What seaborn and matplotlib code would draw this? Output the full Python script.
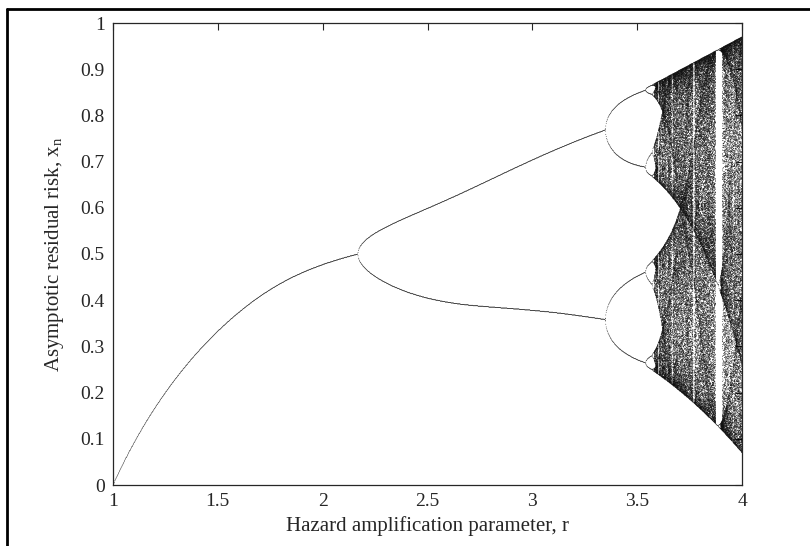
import numpy as np
import pandas as pd
import matplotlib
matplotlib.use("Agg")
import matplotlib.pyplot as plt
from matplotlib.lines import Line2D
import seaborn as sns

# Hazard map with threshold mitigation:
#   x_{n+1} = r * x * (1 - x) * (1 - MITIGATION * sigmoid((x - THRESHOLD) / SOFTNESS))
R_MIN, R_MAX = 1.0, 4.0
R_STEPS = 1400
THRESHOLD = 0.548
SOFTNESS = 0.034
MITIGATION = 0.4
X_START = 0.3
TRANSIENT = 1500
KEEP = 400
X_RESOLUTION = 3  # decimals kept when merging repeated orbit points

x_ticks = [1, 1.5, 2, 2.5, 3, 3.5, 4]
y_ticks = [0, 0.1, 0.2, 0.3, 0.4, 0.5, 0.6, 0.7, 0.8, 0.9, 1]
x_label = "Hazard amplification parameter, r"
y_label = r"Asymptotic residual risk, x$_{\mathregular{n}}$"


def hazard_step(x, r):
    damping = 1.0 - MITIGATION / (1.0 + np.exp(-(x - THRESHOLD) / SOFTNESS))
    return r * x * (1.0 - x) * damping


r_grid = np.linspace(R_MIN, R_MAX, R_STEPS)
x_state = np.full_like(r_grid, X_START)
for _ in range(TRANSIENT):
    x_state = hazard_step(x_state, r_grid)

r_cols, x_cols = [], []
for _ in range(KEEP):
    x_state = hazard_step(x_state, r_grid)
    r_cols.append(r_grid.copy())
    x_cols.append(x_state.copy())

orbit = pd.DataFrame({"r": np.concatenate(r_cols), "x": np.concatenate(x_cols)})
# periodic orbits revisit the same values: keep each attractor point once
orbit["x"] = orbit["x"].round(X_RESOLUTION)
orbit = orbit.drop_duplicates(["r", "x"])

sns.set_style("white")
plt.rcParams["font.family"] = ["Liberation Serif", "DejaVu Serif"]
plt.rcParams["mathtext.fontset"] = "custom"
plt.rcParams["mathtext.rm"] = "Liberation Serif"

W, H = 810, 546
fig = plt.figure(figsize=(W / 100, H / 100), dpi=100)
ax = fig.add_axes([113 / W, 1 - 485 / H, (742 - 113) / W, (485 - 23) / H])

sns.scatterplot(data=orbit, x="r", y="x", s=0.3, color="black",
                linewidth=0, edgecolor="none", legend=False, ax=ax)

ax.set_xlim(R_MIN, R_MAX)
ax.set_ylim(0, 1)
ax.set_xticks(x_ticks)
ax.set_xticklabels([f"{v:g}" for v in x_ticks])
ax.set_yticks(y_ticks)
ax.set_yticklabels([f"{v:g}" for v in y_ticks])
ax.tick_params(direction="in", length=5, width=0.8, top=True, right=True,
               labelsize=14, colors="#262626", pad=6)
for spine in ax.spines.values():
    spine.set_visible(True)
    spine.set_color("#262626")
    spine.set_linewidth(0.9)
ax.set_xlabel(x_label, fontsize=15, color="#262626", labelpad=4)
ax.set_ylabel(y_label, fontsize=15, color="#262626", labelpad=10)

# border of the figure panel (top and left edges)
fig.add_artist(Line2D([7 / W, 1.0], [1 - 9 / H, 1 - 9 / H],
                      transform=fig.transFigure, color="black", lw=2))
fig.add_artist(Line2D([7 / W, 7 / W], [0.0, 1 - 9 / H],
                      transform=fig.transFigure, color="black", lw=2))

fig.savefig("out.png", dpi=100)
